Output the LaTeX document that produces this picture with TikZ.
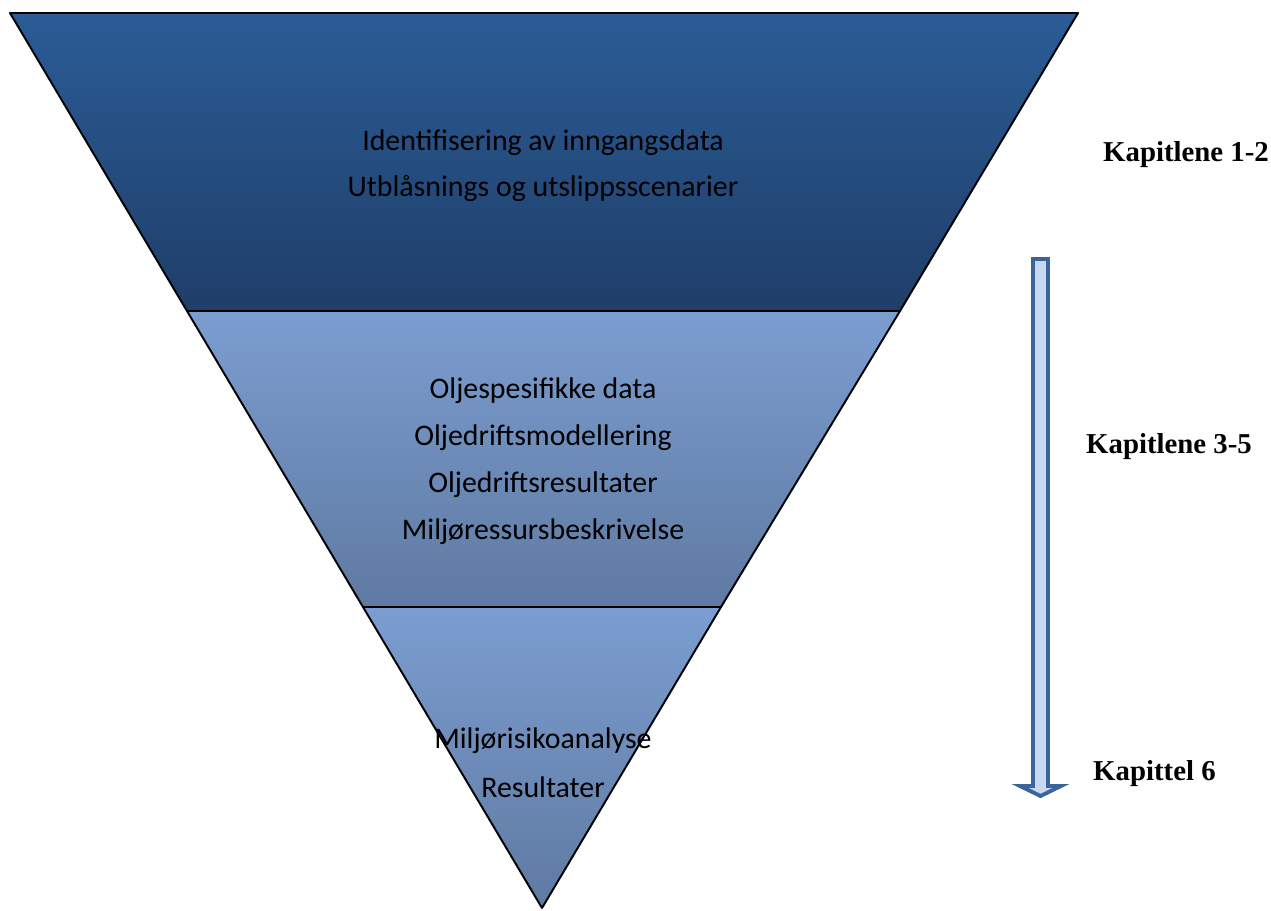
\documentclass[tikz,border=0pt]{standalone}
\usepackage{fontspec}
\setmainfont{Carlito}
\newfontfamily\kapfont{Liberation Serif}
\usetikzlibrary{calc}

\definecolor{topband}{HTML}{2B5C96}
\definecolor{topbandlow}{HTML}{1F3E69}
\definecolor{midband}{HTML}{7B9DD0}
\definecolor{midbandlow}{HTML}{5F7AA2}
\definecolor{arrowline}{HTML}{3A659C}
\definecolor{arrowfill}{HTML}{C7D9F1}

\tikzset{
  band/.style={draw=black, line width=1.1pt, line join=round},
  bandtext/.style={font=\fontsize{17}{20}\selectfont, text=black, anchor=center},
  kaptext/.style={font=\kapfont\bfseries\fontsize{16.4}{19}\selectfont, anchor=west}
}

\begin{document}
\begin{tikzpicture}[x=0.02cm, y=-0.02cm]
  %%%%% START %%%%%
  \useasboundingbox (0, 0) rectangle (1271, 910);

  % corners of the funnel and where the bands meet
  \coordinate (tl) at (10, 13);
  \coordinate (tr) at (1078, 13);
  \coordinate (apex) at (542, 908);
  \coordinate (l1) at (187, 311);
  \coordinate (r1) at (900, 311);
  \coordinate (l2) at (363, 607);
  \coordinate (r2) at (721, 607);

  \path[band, top color=topband, bottom color=topbandlow] (tl) -- (tr) -- (r1) -- (l1) -- cycle;
  \path[band, top color=midband, bottom color=midbandlow] (l1) -- (r1) -- (r2) -- (l2) -- cycle;
  \path[band, top color=midband, bottom color=midbandlow] (l2) -- (r2) -- (apex) -- cycle;

  \node[bandtext] (inndata) at (543, 143) {Identifisering av inngangsdata};
  \node[bandtext] (scen) at (543, 188) {Utblåsnings og utslippsscenarier};

  \node[bandtext] (oljedata) at (543, 391) {Oljespesifikke data};
  \node[bandtext] (modell) at (543, 438) {Oljedriftsmodellering};
  \node[bandtext] (result) at (543, 485) {Oljedriftsresultater};
  \node[bandtext] (ressurs) at (543, 532) {Miljøressursbeskrivelse};

  \node[bandtext] (risiko) at (543, 741) {Miljørisikoanalyse};
  \node[bandtext] (resultater) at (543, 787) {Resultater};

  % block arrow down the right side
  \draw[draw=arrowline, fill=arrowfill, line width=2.2pt, line join=miter]
    (1033, 259) -- (1048, 259) -- (1048, 786) -- (1061, 786) -- (1040.5, 796)
    -- (1020, 786) -- (1033, 786) -- cycle;

  \node[kaptext] (kap1) at (1097, 155) {Kapitlene 1-2};
  \node[kaptext] (kap3) at (1080, 447) {Kapitlene 3-5};
  \node[kaptext] (kap6) at (1087, 774) {Kapittel 6};
  %%%%% END %%%%%
\end{tikzpicture}
\end{document}
